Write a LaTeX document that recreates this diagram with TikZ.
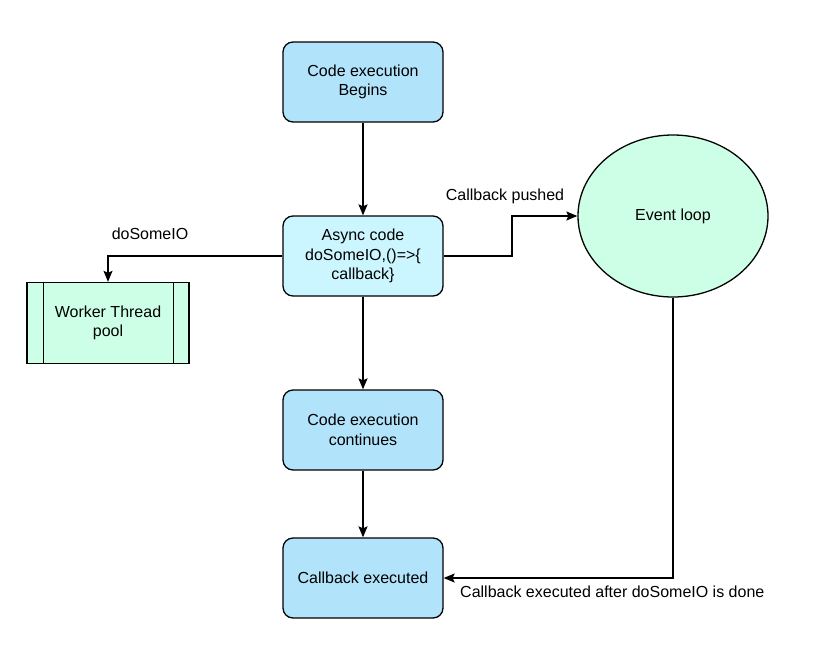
\documentclass[tikz,border=0pt]{standalone}
\usepackage{fontspec}
\setmainfont{Liberation Sans}
\usepackage{tikz}
\usetikzlibrary{arrows.meta,shapes.geometric,calc}

\definecolor{stepblue}{RGB}{177,227,251}
\definecolor{asyncblue}{RGB}{204,246,255}
\definecolor{mint}{RGB}{204,255,229}

\tikzset{
  codebox/.style={draw,line width=1.3pt,rounded corners=10pt,fill=stepblue,
    minimum width=160pt,minimum height=80pt,align=center,inner sep=0pt},
  flow/.style={line width=1.3pt,-{Stealth[length=11pt,width=9pt,inset=2pt]}},
  lbl/.style={inner sep=0pt}
}

\begin{document}
\begin{tikzpicture}[x=1pt,y=-1pt,font=\fontsize{16}{19.5}\selectfont]
\useasboundingbox (0,0) rectangle (828,670);
\node[codebox] (begin) at (363,82) {Code execution\\Begins};
\node[codebox,fill=asyncblue] (async) at (363,256) {Async code\\doSomeIO,()=>\{\\callback\}};
\node[codebox] (cont) at (363,430) {Code execution\\continues};
\node[codebox] (done) at (363,578) {Callback executed};
\node[draw,line width=1.3pt,fill=mint,minimum width=162pt,minimum height=81pt,align=center] (pool) at (108,323) {Worker Thread\\pool};
\draw[line width=1.3pt] ($(pool.north west)+(17,0)$) -- ($(pool.south west)+(17,0)$);
\draw[line width=1.3pt] ($(pool.north east)+(-16,0)$) -- ($(pool.south east)+(-16,0)$);
\node[ellipse,draw,line width=1.3pt,fill=mint,minimum width=190pt,minimum height=162pt,inner sep=0pt] (loop) at (673,216) {Event loop};

\draw[flow] (begin) -- (async);
\draw[flow] (async) -- (cont);
\draw[flow] (cont) -- (done);
\draw[flow] (async.west) -| (pool.north);
\draw[flow] (async.east) -- (512,256) |- (loop.west);
\draw[flow] (loop.south) |- (done.east);

\node[lbl] (iolbl) at (150,234) {doSomeIO};
\node[lbl] (pushlbl) at (505,196) {Callback pushed};
\node[lbl,anchor=west] (donelbl) at (460,592) {Callback executed after doSomeIO is done};
\end{tikzpicture}
\end{document}
